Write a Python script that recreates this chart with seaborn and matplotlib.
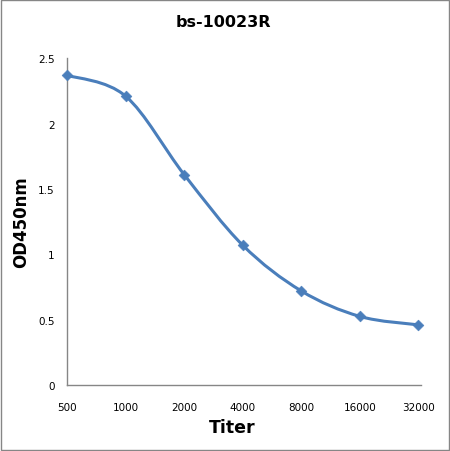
import numpy as np
import pandas as pd
import seaborn as sns
import matplotlib.pyplot as plt
from matplotlib.path import Path
from matplotlib.patches import PathPatch, Rectangle

titer = ['500', '1000', '2000', '4000', '8000', '16000', '32000']
od450 = [2.37, 2.21, 1.61, 1.07, 0.72, 0.525, 0.46]

df = pd.DataFrame({'Titer': titer, 'OD450nm': od450})
df['pos'] = range(len(titer))

sns.set_style('white')
plt.rcParams['font.family'] = ['DejaVu Sans']
plt.rcParams['text.color'] = 'black'
plt.rcParams['axes.labelcolor'] = 'black'
plt.rcParams['xtick.color'] = 'black'
plt.rcParams['ytick.color'] = 'black'

fig = plt.figure(figsize=(4.5, 4.52), dpi=100)
ax = fig.add_axes([0.149, 0.146, 0.787, 0.723])

# smoothed line like excel (bezier through the points)
x = df['pos'].to_numpy(dtype=float)
y = df['OD450nm'].to_numpy(dtype=float)
pts = np.column_stack([x, y])
verts = [pts[0]]
codes = [Path.MOVETO]
for i in range(len(pts) - 1):
    p0 = pts[max(i - 1, 0)]
    p1 = pts[i]
    p2 = pts[i + 1]
    p3 = pts[min(i + 2, len(pts) - 1)]
    verts += [p1 + (p2 - p0) / 6, p2 - (p3 - p1) / 6, p2]
    codes += [Path.CURVE4] * 3
ax.add_patch(PathPatch(Path(verts, codes), facecolor='none', edgecolor='#4A7EBB', lw=2.2, zorder=2))

sns.scatterplot(data=df, x='pos', y='OD450nm', marker='D', s=30, color='#4A7EBB',
                edgecolor='#4A7EBB', ax=ax, zorder=3, clip_on=False)

ax.set_xlim(0, 6.05)
ax.set_ylim(0, 2.5)
ax.set_xticks(range(len(titer)))
ax.set_xticklabels(titer)
ax.set_yticks([0, 0.5, 1, 1.5, 2, 2.5])
ax.set_yticklabels(['0', '0.5', '1', '1.5', '2', '2.5'])
ax.tick_params(axis='both', length=0, labelsize=7.5, pad=9)
ax.tick_params(axis='x', pad=12)
for s in ['top', 'right']:
    ax.spines[s].set_visible(False)
for s in ['left', 'bottom']:
    ax.spines[s].set_color('#868686')
    ax.spines[s].set_linewidth(1)

ax.set_xlabel('Titer', fontsize=12.5, fontweight='bold')
ax.xaxis.set_label_coords(0.4675, -0.1)
ax.set_ylabel('OD450nm', fontsize=12, fontweight='bold')
ax.yaxis.set_label_coords(-0.105, 0.5)
fig.text(0.497, 0.951, 'bs-10023R', fontsize=11.5, fontweight='bold', ha='center', va='center')

fig.patches.append(Rectangle((0.003, 0.003), 0.994, 0.994, transform=fig.transFigure,
                             fill=False, edgecolor='#868686', lw=1))

fig.savefig('out.png', dpi=100)
